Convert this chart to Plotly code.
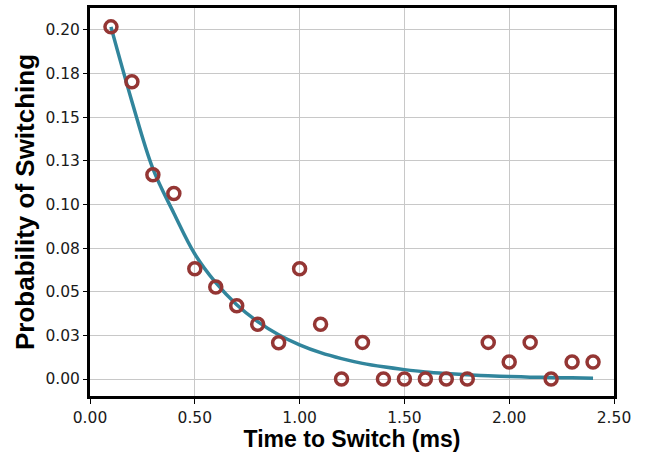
import plotly.graph_objects as go

# Observed data points
time_ms = [0.1, 0.2, 0.3, 0.4, 0.5, 0.6, 0.7, 0.8, 0.9, 1.0, 1.1, 1.2,
           1.3, 1.4, 1.5, 1.6, 1.7, 1.8, 1.9, 2.0, 2.1, 2.2, 2.3, 2.4]
prob = [0.2017, 0.1703, 0.1170, 0.1063, 0.0632, 0.0527, 0.0420, 0.0314,
        0.0208, 0.0632, 0.0314, 0.0000, 0.0210, 0.0000, 0.0000, 0.0000,
        0.0000, 0.0000, 0.0210, 0.0098, 0.0210, 0.0000, 0.0098, 0.0098]

# Fitted curve
fit_x = [0.1, 0.2, 0.3, 0.4, 0.5, 0.6, 0.7, 0.8, 0.9, 1.0, 1.1, 1.2,
         1.3, 1.4, 1.5, 1.6, 1.7, 1.8, 1.9, 2.0, 2.1, 2.2, 2.3, 2.4]
fit_y = [0.2017, 0.1590, 0.1205, 0.0950, 0.0716, 0.0552, 0.0426, 0.0329,
         0.0254, 0.0196, 0.0151, 0.0117, 0.0090, 0.0070, 0.0054, 0.0041,
         0.0032, 0.0025, 0.0019, 0.0015, 0.0011, 0.0009, 0.0007, 0.0005]

x_tickvals = [0.0, 0.5, 1.0, 1.5, 2.0, 2.5]
x_ticktext = ["0.00", "0.50", "1.00", "1.50", "2.00", "2.50"]
y_tickvals = [0.0, 0.025, 0.05, 0.075, 0.1, 0.125, 0.15, 0.175, 0.2]
y_ticktext = ["0.00", "0.03", "0.05", "0.08", "0.10", "0.13", "0.15", "0.18", "0.20"]

fig = go.Figure()
fig.add_trace(go.Scatter(
    x=fit_x, y=fit_y, mode="lines",
    line=dict(color="#31859C", width=3.5, shape="spline"),
    showlegend=False, hoverinfo="skip"))
fig.add_trace(go.Scatter(
    x=time_ms, y=prob, mode="markers",
    marker=dict(symbol="circle-open", size=12, color="#943634",
                line=dict(width=3.5, color="#943634")),
    showlegend=False))

tick_font = dict(family="DejaVu Sans, sans-serif", size=15.5, color="#1a1a1a")
xtitle_font = dict(family="Liberation Sans, Arial, sans-serif", size=23, color="#000000")
ytitle_font = dict(family="Liberation Sans, Arial, sans-serif", size=26, color="#000000")

fig.update_layout(
    width=652, height=452,
    margin=dict(l=90, r=38, t=5, b=56),
    paper_bgcolor="white", plot_bgcolor="white",
    xaxis=dict(
        range=[0, 2.5], tickvals=x_tickvals, ticktext=x_ticktext,
        showgrid=True, gridcolor="#c8c8c8", gridwidth=1,
        showline=True, linecolor="black", linewidth=3, mirror=True,
        ticks="outside", ticklen=5, tickwidth=1, tickcolor="black",
        tickfont=tick_font, zeroline=False,
        title=dict(text="<b>Time to Switch (ms)</b>", font=xtitle_font, standoff=3)),
    yaxis=dict(
        range=[-0.0097, 0.2125], tickvals=y_tickvals, ticktext=y_ticktext,
        showgrid=True, gridcolor="#c8c8c8", gridwidth=1,
        showline=True, linecolor="black", linewidth=3, mirror=True,
        ticks="outside", ticklen=4, tickwidth=1, tickcolor="black",
        tickfont=tick_font, zeroline=False,
        title=dict(text="<b>Probability of Switching</b>", font=ytitle_font, standoff=4)),
)

fig.write_html("out.html", config={"displayModeBar": False},
               post_script="document.body.style.margin='0';")
